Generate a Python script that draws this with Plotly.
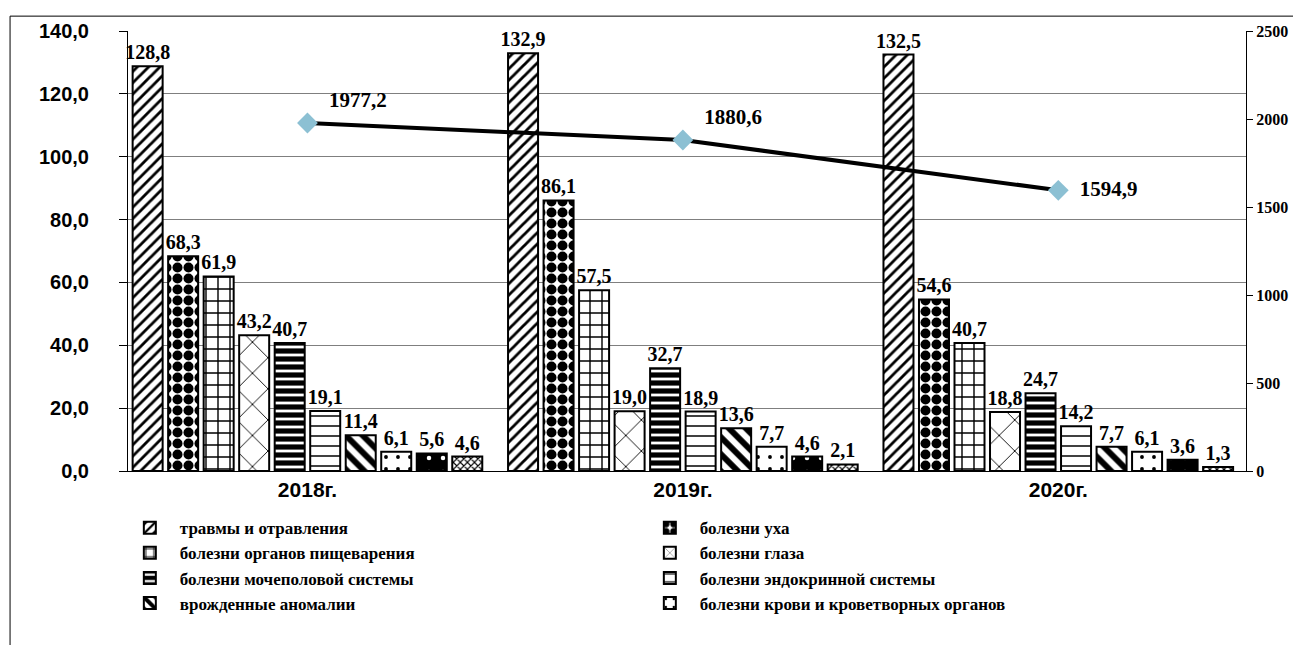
import plotly.graph_objects as go

years = ["2018г.", "2019г.", "2020г."]
series_names = [
    "травмы и отравления",
    "болезни уха",
    "болезни органов пищеварения",
    "болезни глаза",
    "болезни мочеполовой системы",
    "болезни эндокринной системы",
    "врожденные аномалии",
    "болезни крови и кроветворных органов",
    "Ряд9",
    "Ряд10",
]
v2018 = [128.8, 68.3, 61.9, 43.2, 40.7, 19.1, 11.4, 6.1, 5.6, 4.6]
v2019 = [132.9, 86.1, 57.5, 19.0, 32.7, 18.9, 13.6, 7.7, 4.6, 2.1]
v2020 = [132.5, 54.6, 40.7, 18.8, 24.7, 14.2, 7.7, 6.1, 3.6, 1.3]
total = [1977.2, 1880.6, 1594.9]

SERIF = "Liberation Serif, Times New Roman, serif"
SANS = "Liberation Sans, Arial, sans-serif"

patterns = [
    dict(shape="/", fgcolor="black", bgcolor="white", size=8, solidity=0.35),
    dict(shape=".", fgcolor="black", bgcolor="white", size=11, solidity=0.65),
    dict(shape="+", fgcolor="black", bgcolor="white", size=12, solidity=0.22),
    dict(shape="x", fgcolor="black", bgcolor="white", size=22, solidity=0.08),
    dict(shape="-", fgcolor="white", bgcolor="black", size=8, solidity=0.35),
    dict(shape="-", fgcolor="black", bgcolor="white", size=10, solidity=0.15),
    dict(shape="\\", fgcolor="black", bgcolor="white", size=12, solidity=0.5),
    dict(shape=".", fgcolor="black", bgcolor="white", size=12, solidity=0.08),
    dict(shape=".", fgcolor="white", bgcolor="black", size=14, solidity=0.08),
    dict(shape="x", fgcolor="black", bgcolor="white", size=5, solidity=0.4),
]

fig = go.Figure()
for i, name in enumerate(series_names):
    vals = [v2018[i], v2019[i], v2020[i]]
    fig.add_trace(go.Bar(
        x=years, y=vals, name=name,
        showlegend=i < 8,
        marker=dict(color="white", line=dict(color="black", width=2),
                    pattern=dict(fillmode="replace", **patterns[i])),
        texttemplate="%{y:.1f}", textposition="outside", constraintext="none",
        cliponaxis=False,
        textfont=dict(family=SERIF, size=20, color="black", weight="bold"),
    ))

fig.add_trace(go.Scatter(
    x=years, y=total, yaxis="y2", name="Ряд11", showlegend=False,
    mode="lines+markers+text",
    line=dict(color="black", width=4),
    marker=dict(symbol="diamond", size=16, color="#8cc0d3"),
    texttemplate="  %{y:.1f}",
    textposition=["top right", "top right", "middle right"],
    textfont=dict(family=SERIF, size=21, color="black", weight="bold"),
    cliponaxis=False,
))

fig.update_layout(
    width=1301, height=645,
    margin=dict(l=120, r=63, t=19, b=182),
    paper_bgcolor="white", plot_bgcolor="white",
    separators=", ",
    barmode="group", bargap=0.054, bargroupgap=0.155,
    showlegend=True,
    legend=dict(orientation="h", x=-0.0073, y=-0.089, xanchor="left", yanchor="top",
                entrywidth=455, tracegroupgap=0, itemwidth=50,
                font=dict(family=SERIF, size=17, color="black", weight="bold")),
    xaxis=dict(range=[-0.478, 2.5], showline=True, linecolor="black", linewidth=1, ticks="",
               tickfont=dict(family=SANS, size=21, color="black", weight="bold")),
    yaxis=dict(range=[0, 140], dtick=20, tickformat=".1f",
               showgrid=True, gridcolor="#7f7f7f", gridwidth=1,
               showline=True, linecolor="black", linewidth=1,
               ticks="outside", ticklen=8, tickcolor="black", ticklabelstandoff=26,
               zeroline=False,
               tickfont=dict(family=SANS, size=20, color="black", weight="bold")),
    yaxis2=dict(range=[0, 2500], dtick=500, tickformat="d", overlaying="y", side="right",
                showgrid=False, showline=True, linecolor="black", linewidth=1,
                ticks="outside", ticklen=6, tickcolor="black", zeroline=False,
                tickfont=dict(family=SERIF, size=16, color="black", weight="bold")),
    shapes=[dict(type="rect", xref="paper", yref="paper",
                 x0=-0.1055, x1=1.2, y0=-0.6, y1=1.0338,
                 line=dict(color="black", width=1), fillcolor="rgba(0,0,0,0)", layer="below")],
)

fig.write_html("out.html")
